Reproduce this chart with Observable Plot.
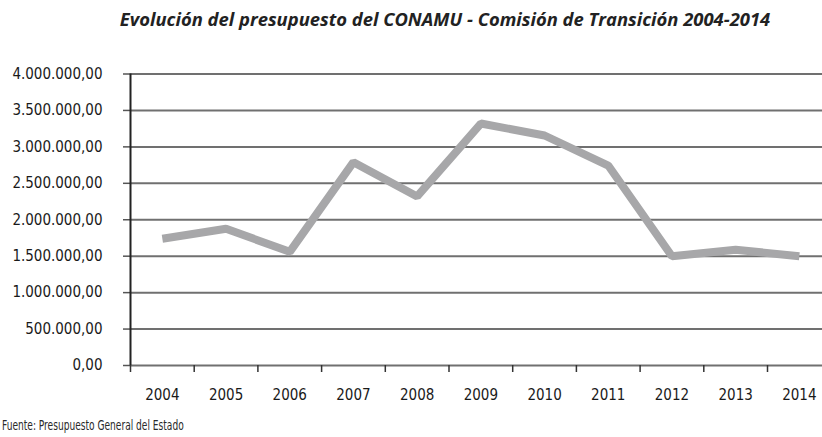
<!DOCTYPE html>
<html>
<head>
<meta charset="utf-8">
<script src="https://cdn.jsdelivr.net/npm/d3@7"></script>
<script src="https://cdn.jsdelivr.net/npm/@observablehq/plot@0.6"></script>
<style>
  html, body { margin: 0; padding: 0; background: #fff; }
  body { width: 822px; height: 437px; position: relative; overflow: hidden; }
  #title { position: absolute; top: 6px; left: 34px; width: 822px; text-align: center;
    font-family: "Open Sans", sans-serif; font-style: italic; font-weight: 700; font-size: 18.4px; color: #222; white-space: nowrap; }
  #chart { position: absolute; top: 40px; left: 0; }
  #footer { position: absolute; top: 417px; left: 2px; white-space: nowrap;
    transform: scale(0.72, 1); transform-origin: left top;
    font-family: "DejaVu Sans Condensed", sans-serif; font-size: 14px; color: #2a2a2a; }
</style>
</head>
<body>
<div id="title">Evolución del presupuesto del CONAMU - Comisión de Transición 2004-2014</div>
<div id="chart"></div>
<div id="footer">Fuente: Presupuesto General del Estado</div>
<script>
const years = [2004, 2005, 2006, 2007, 2008, 2009, 2010, 2011, 2012, 2013, 2014];
const budget = [1740000, 1876000, 1560000, 2790000, 2320000, 3320000, 3156000, 2744000, 1500000, 1588000, 1500000];
const yTicks = [0, 500000, 1000000, 1500000, 2000000, 2500000, 3000000, 3500000, 4000000];

const data = years.map((y, i) => ({year: y, value: budget[i]}));
const bounds = years.map(y => y - 0.5).concat([years[years.length - 1] + 0.5]);
const es = d3.formatLocale({decimal: ",", thousands: ".", grouping: [3], currency: ["", ""]});
const fmt = es.format(",.2f");

const plot = Plot.plot({
  width: 822,
  height: 375,
  marginLeft: 130,
  marginRight: 0,
  marginTop: 33.5,
  marginBottom: 50,
  style: {fontFamily: "'DejaVu Sans Condensed', sans-serif", fontSize: "15px", color: "#1a1a1a", background: "white", overflow: "visible"},
  x: {type: "linear", domain: [bounds[0], bounds[bounds.length - 1]], range: [130, 830.7], label: null},
  y: {domain: [0, 4000000], label: null},
  marks: [
    Plot.ruleY(yTicks, {stroke: "#707070", strokeWidth: 2}),
    Plot.axisY({ticks: yTicks, tickSize: 7, tickPadding: 21, tickFormat: fmt, stroke: "#555", strokeWidth: 1.5, fill: "#1a1a1a", label: null}),
    Plot.axisX({ticks: bounds, tickSize: 7, tickFormat: () => "", stroke: "#333", strokeWidth: 1.5, label: null}),
    Plot.axisX({ticks: years, tickSize: 0, tickPadding: 24, tickFormat: d => String(d), fill: "#1a1a1a", label: null}),
    Plot.ruleX([bounds[0]], {y1: 0, y2: 4000000, stroke: "#222", strokeWidth: 2}),
    Plot.line(data, {x: "year", y: "value", stroke: "#a7a7a9", strokeWidth: 8, strokeLinejoin: "miter", strokeLinecap: "butt"})
  ]
});
document.getElementById("chart").appendChild(plot);
</script>
</body>
</html>
